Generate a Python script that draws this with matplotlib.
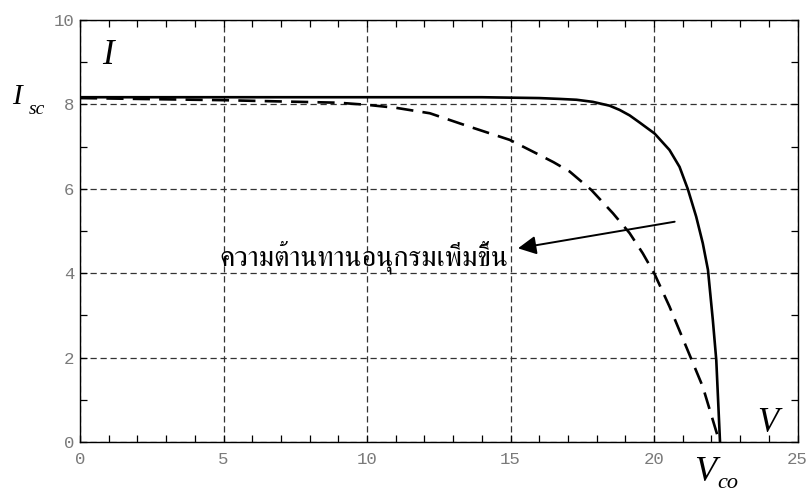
import matplotlib
matplotlib.use('Agg')
import matplotlib.pyplot as plt
from matplotlib import font_manager
from matplotlib.ticker import MultipleLocator
from fontTools.ttLib import TTFont

# 1. 데이터
v_solid = [0, 5, 10, 14, 16, 16.71, 17.3, 17.87, 18.45, 18.80, 19.15, 19.50, 20.02,
           20.54, 20.89, 21.18, 21.47, 21.70, 21.88, 22.05, 22.17, 22.30]
i_solid = [8.17, 8.17, 8.17, 8.17, 8.15, 8.13, 8.11, 8.06, 7.97, 7.87, 7.74, 7.57, 7.31,
           6.92, 6.52, 5.99, 5.34, 4.71, 4.08, 2.89, 1.94, 0.0]

v_dashed = [0, 5, 9, 10, 11, 12.19, 13.58, 14.97, 15.90, 16.5, 17.06, 17.82, 18.57,
            19.15, 19.61, 20.02, 20.54, 21.12, 21.70, 22.28]
i_dashed = [8.15, 8.10, 8.04, 7.99, 7.92, 7.79, 7.47, 7.16, 6.84, 6.63, 6.41, 5.97, 5.42,
            4.95, 4.47, 3.98, 3.21, 2.26, 1.31, 0.0]

x_ticks = [0, 5, 10, 15, 20, 25]
y_ticks = [0, 2, 4, 6, 8, 10]

label_text = 'ความต้านทานอนุกรมเพิ่มขึ้น'


# 태국어 글꼴 찾기 (세리프 우선)
def find_thai_font():
    found = []
    for f in font_manager.fontManager.ttflist:
        if not f.fname.lower().endswith(('.ttf', '.otf', '.ttc')):
            continue
        try:
            cmap = TTFont(f.fname, fontNumber=0, lazy=True).getBestCmap()
        except Exception:
            continue
        if cmap and 0x0E04 in cmap and 0x0E49 in cmap:
            found.append(f.name)
    for name in found:
        if 'Serif' in name:
            return name
    return found[0] if found else 'DejaVu Sans'


thai_font = find_thai_font()

# 2. 그래프
fig = plt.figure(figsize=(8.09, 4.92), dpi=100)
ax = fig.add_axes([80 / 809, 1 - 442 / 492, 717.5 / 809, 422 / 492])

ax.plot(v_solid, i_solid, color='black', lw=1.9, solid_joinstyle='round')
ax.plot(v_dashed, i_dashed, color='black', lw=1.9, linestyle=(0, (6.5, 3.5)))

ax.set_xlim(0, 25)
ax.set_ylim(0, 10)
ax.set_xticks(x_ticks)
ax.set_yticks(y_ticks)
ax.xaxis.set_minor_locator(MultipleLocator(1))
ax.yaxis.set_minor_locator(MultipleLocator(1))
ax.tick_params(which='both', direction='in', top=True, right=True,
               length=5, width=0.9, color='black')
ax.tick_params(axis='both', labelsize=12.5, labelcolor='#7a7a7a')
ax.tick_params(axis='x', pad=7)
ax.tick_params(axis='y', pad=4)
for lab in ax.get_xticklabels() + ax.get_yticklabels():
    lab.set_fontfamily('Liberation Mono')
for sp in ax.spines.values():
    sp.set_linewidth(1.0)

ax.grid(True, which='major', color='#333333', lw=0.9, linestyle=(0, (5, 3)))

# 화살표 + 설명
ax.annotate('', xy=(15.26, 4.59), xytext=(20.72, 5.22),
            arrowprops=dict(arrowstyle='-|>,head_length=0.55,head_width=0.28',
                            mutation_scale=20, lw=1.4, color='black',
                            shrinkA=0, shrinkB=0))
ax.text(4.87, 4.18, label_text, fontsize=20.5, family=[thai_font, 'DejaVu Sans'],
        ha='left', va='baseline')

# 축 기호
serif = dict(family='Liberation Serif', style='italic', color='black')
ax.text(0.77, 8.96, 'I', fontsize=25, ha='left', va='baseline', **serif)
ax.text(23.6, 0.24, 'V', fontsize=25, ha='left', va='baseline', **serif)
ax.text(-2.37, 8.0, 'I', fontsize=21, ha='left', va='baseline', clip_on=False, **serif)
ax.text(-1.8, 7.78, 'sc', fontsize=14, ha='left', va='baseline', clip_on=False, **serif)
ax.text(21.41, -0.93, 'V', fontsize=26, ha='left', va='baseline', clip_on=False, **serif)
ax.text(22.2, -1.08, 'co', fontsize=16, ha='left', va='baseline', clip_on=False, **serif)

plt.savefig('out.png', dpi=100)
